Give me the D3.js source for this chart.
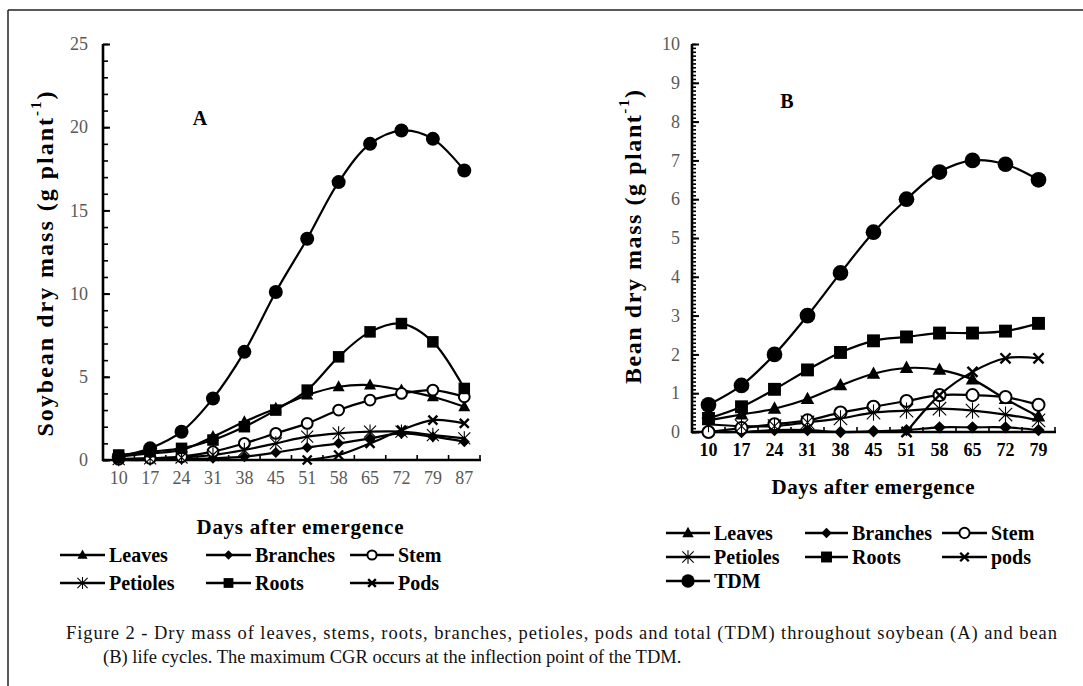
<!DOCTYPE html>
<html>
<head>
<meta charset="utf-8">
<script src="https://cdn.jsdelivr.net/npm/d3@7"></script>
<style>
  html, body { margin: 0; padding: 0; background: #fff; }
  svg { display: block; }
  text { font-family: "Liberation Serif", "Times New Roman", serif; }
</style>
</head>
<body>
<svg id="chart" width="1083" height="686"></svg>
<script>
// ---------------- DATA ----------------
const daysA = [10, 17, 24, 31, 38, 45, 51, 58, 65, 72, 79, 87];
const leavesA   = [0.2, 0.4, 0.6, 1.4, 2.3, 3.1, 3.9, 4.4, 4.5, 4.2, 3.8, 3.2];
const branchesA = [0.0, 0.0, 0.05, 0.1, 0.2, 0.45, 0.75, 1.0, 1.3, 1.6, 1.4, 1.1];
const stemA     = [0.05, 0.1, 0.2, 0.5, 1.0, 1.6, 2.2, 3.0, 3.6, 4.0, 4.2, 3.8];
const petiolesA = [0.05, 0.1, 0.15, 0.3, 0.6, 1.0, 1.4, 1.6, 1.7, 1.7, 1.5, 1.3];
const rootsA    = [0.3, 0.5, 0.7, 1.2, 2.0, 3.0, 4.2, 6.2, 7.7, 8.2, 7.1, 4.3];
const podsA     = [null, null, null, null, null, null, 0.0, 0.3, 1.0, 1.8, 2.4, 2.2];
const tdmA      = [0.2, 0.7, 1.7, 3.7, 6.5, 10.1, 13.3, 16.7, 19.0, 19.8, 19.3, 17.4];
const yTicksA   = [0, 5, 10, 15, 20, 25];

const daysB = [10, 17, 24, 31, 38, 45, 51, 58, 65, 72, 79];
const leavesB   = [0.3, 0.45, 0.6, 0.85, 1.2, 1.5, 1.65, 1.6, 1.35, 0.85, 0.4];
const branchesB = [0.0, 0.0, 0.05, 0.05, 0.0, 0.02, 0.05, 0.12, 0.12, 0.12, 0.05];
const stemB     = [0.0, 0.1, 0.2, 0.3, 0.5, 0.65, 0.8, 0.95, 0.95, 0.9, 0.7];
const petiolesB = [0.2, 0.15, 0.15, 0.25, 0.35, 0.5, 0.55, 0.6, 0.55, 0.45, 0.3];
const rootsB    = [0.35, 0.65, 1.1, 1.6, 2.05, 2.35, 2.45, 2.55, 2.55, 2.6, 2.8];
const podsB     = [null, null, null, null, null, null, 0.0, 0.95, 1.55, 1.9, 1.9];
const tdmB      = [0.7, 1.2, 2.0, 3.0, 4.1, 5.15, 6.0, 6.7, 7.0, 6.9, 6.5];
const yTicksB   = [0, 1, 2, 3, 4, 5, 6, 7, 8, 9, 10];

const legendA = ["Leaves", "Branches", "Stem", "Petioles", "Roots", "Pods"];
const legendB = ["Leaves", "Branches", "Stem", "Petioles", "Roots", "pods", "TDM"];
const captionLines = [
  "Figure 2 - Dry mass of leaves, stems, roots, branches, petioles, pods and total (TDM) throughout soybean (A) and bean",
  "(B) life cycles. The maximum CGR occurs at the inflection point of the TDM."
];

// ---------------- DRAW ----------------
const svg = d3.select("#chart");

// frame
svg.append("line").attr("x1", 8).attr("y1", 10).attr("x2", 1083).attr("y2", 10)
  .attr("stroke", "#222").attr("stroke-width", 1.5);
svg.append("line").attr("x1", 8).attr("y1", 10).attr("x2", 8).attr("y2", 686)
  .attr("stroke", "#222").attr("stroke-width", 1.5);

function marker(g, type, cx, cy, k) {
  if (type === "triangle") {
    const h = 11 * k, w = 12 * k;
    g.append("path").attr("d", `M${cx},${cy - h * 0.6}L${cx + w / 2},${cy + h * 0.4}L${cx - w / 2},${cy + h * 0.4}Z`)
      .attr("fill", "#000");
  } else if (type === "diamond") {
    const r = 5.5 * k;
    g.append("path").attr("d", `M${cx},${cy - r}L${cx + r},${cy}L${cx},${cy + r}L${cx - r},${cy}Z`).attr("fill", "#000");
  } else if (type === "open") {
    g.append("circle").attr("cx", cx).attr("cy", cy).attr("r", 5.4 * k)
      .attr("fill", "#fff").attr("stroke", "#000").attr("stroke-width", 2);
  } else if (type === "star") {
    const r = 6 * k;
    g.append("path").attr("d",
      `M${cx - r},${cy - r}L${cx + r},${cy + r}M${cx - r},${cy + r}L${cx + r},${cy - r}M${cx},${cy - r * 1.2}L${cx},${cy + r * 1.2}`)
      .attr("stroke", "#000").attr("stroke-width", 1.1).attr("fill", "none");
  } else if (type === "square") {
    const a = 11.5 * k;
    g.append("rect").attr("x", cx - a / 2).attr("y", cy - a / 2).attr("width", a).attr("height", a).attr("fill", "#000");
  } else if (type === "x") {
    const r = 4.5 * k;
    g.append("path").attr("d", `M${cx - r},${cy - r}L${cx + r},${cy + r}M${cx - r},${cy + r}L${cx + r},${cy - r}`)
      .attr("stroke", "#000").attr("stroke-width", 2.4).attr("fill", "none");
  } else if (type === "circle") {
    g.append("circle").attr("cx", cx).attr("cy", cy).attr("r", 7 * k).attr("fill", "#000");
  }
}

const markerTypes = ["triangle", "diamond", "open", "star", "square", "x", "circle"];

function drawPanel(cfg) {
  const g = svg.append("g");
  const x = d3.scaleBand().domain(cfg.days).range([cfg.x0, cfg.x1]);
  const y = d3.scaleLinear().domain([0, cfg.ymax]).range([cfg.y0, cfg.ytop]);
  const cx = d => x(d) + x.bandwidth() / 2;

  // y minor ticks
  g.append("g").attr("transform", `translate(${cfg.x0},0)`)
    .call(d3.axisLeft(y).tickValues(cfg.minor).tickSize(-cfg.minorLen).tickSizeOuter(0).tickFormat(""))
    .call(a => a.select(".domain").remove())
    .call(a => a.selectAll("line").attr("stroke", "#000").attr("stroke-width", 1.6));
  // y major ticks + labels
  g.append("g").attr("transform", `translate(${cfg.x0},0)`)
    .call(d3.axisLeft(y).tickValues(cfg.yTicks).tickSize(-cfg.majorLen).tickSizeOuter(0).tickPadding(cfg.yPad))
    .call(a => a.select(".domain").remove())
    .call(a => a.selectAll("line").attr("stroke", "#000").attr("stroke-width", 2))
    .call(a => a.selectAll("text").attr("font-size", 18).attr("fill", "#595959"));

  // x tick marks at band boundaries (inside)
  const edges = cfg.days.map(d => x(d)).concat([x(cfg.days[cfg.days.length - 1]) + x.step()]);
  g.selectAll(".xt").data(edges).join("line")
    .attr("x1", d => d).attr("x2", d => d)
    .attr("y1", cfg.y0).attr("y2", cfg.y0 - 5)
    .attr("stroke", "#000").attr("stroke-width", 1.6);

  // x labels
  g.append("g").attr("transform", `translate(0,${cfg.y0})`)
    .call(d3.axisBottom(x).tickSize(0).tickPadding(cfg.xPad))
    .call(a => a.select(".domain").remove())
    .call(a => a.selectAll("text").attr("font-size", 18)
      .attr("fill", cfg.xLabelColor).attr("font-weight", cfg.xLabelWeight));

  // axes lines
  g.append("line").attr("x1", cfg.x0).attr("x2", cfg.x0).attr("y1", cfg.ytop).attr("y2", cfg.y0 + 1)
    .attr("stroke", "#000").attr("stroke-width", 2.6);
  g.append("line").attr("x1", cfg.x0 - 1).attr("x2", cfg.x1 + 1).attr("y1", cfg.y0).attr("y2", cfg.y0)
    .attr("stroke", "#000").attr("stroke-width", 2.6);

  // series
  const line = d3.line().x(d => cx(d.day)).y(d => y(d.v))
    .curve(d3.curveCatmullRom.alpha(0.5));
  cfg.series.forEach((vals) => {
    const pts = cfg.days.map((day, j) => ({ day, v: vals[j] })).filter(p => p.v !== null);
    g.append("path").attr("d", line(pts))
      .attr("fill", "none").attr("stroke", "#000").attr("stroke-width", 2.2);
  });
  cfg.series.forEach((vals, i) => {
    const mg = g.append("g");
    cfg.days.forEach((day, j) => {
      if (vals[j] === null) return;
      marker(mg, markerTypes[i], cx(day), y(vals[j]), cfg.mk);
    });
  });

  // panel letter
  g.append("text").attr("x", cfg.letter[0]).attr("y", cfg.letter[1]).text(cfg.letter[2])
    .attr("font-weight", "bold").attr("font-size", 20).attr("text-anchor", "middle").attr("dominant-baseline", "central");

  // y title
  const yt = g.append("text")
    .attr("transform", `translate(${cfg.yTitle[0]},${cfg.yTitle[1]}) rotate(-90)`)
    .attr("text-anchor", "middle").attr("dominant-baseline", "central")
    .attr("font-weight", "bold").attr("font-size", 24)
    .attr("textLength", cfg.yTitle[3]).attr("lengthAdjust", "spacing");
  yt.append("tspan").text(cfg.yTitle[2] + " (g plant");
  yt.append("tspan").text("-1").attr("font-size", 15).attr("dy", -9);
  yt.append("tspan").text(")").attr("dy", 9);

  // x title
  g.append("text").attr("x", cfg.xTitle[0]).attr("y", cfg.xTitle[1]).text("Days after emergence")
    .attr("text-anchor", "middle").attr("dominant-baseline", "central")
    .attr("font-weight", "bold").attr("font-size", 21)
    .attr("textLength", cfg.xTitle[2]).attr("lengthAdjust", "spacing");

  // legend
  cfg.legend.forEach((name, i) => {
    const col = i % 3, row = Math.floor(i / 3);
    const lx0 = cfg.legCols[col][0], lx1 = cfg.legCols[col][1];
    const ly = cfg.legRows[row];
    const lg = g.append("g");
    lg.append("line").attr("x1", lx0).attr("x2", lx1).attr("y1", ly).attr("y2", ly)
      .attr("stroke", "#000").attr("stroke-width", 2.6);
    marker(lg, markerTypes[i], (lx0 + lx1) / 2, ly, cfg.legMk);
    lg.append("text").attr("x", lx1 + 4).attr("y", ly).text(name)
      .attr("dominant-baseline", "central").attr("font-weight", "bold").attr("font-size", 20);
  });
}

drawPanel({
  days: daysA, x0: 103, x1: 480, y0: 460, ytop: 44, ymax: 25,
  yTicks: yTicksA, minor: d3.range(0, 26, 1), majorLen: 7, minorLen: 5, yPad: 15, xPad: 11,
  xLabelColor: "#595959", xLabelWeight: "normal",
  series: [leavesA, branchesA, stemA, petiolesA, rootsA, podsA, tdmA], mk: 1,
  letter: [200, 118, "A"], yTitle: [45, 264, "Soybean dry mass", 345], xTitle: [300, 527, 207],
  legend: legendA, legCols: [[60, 105], [206, 251], [350, 394]], legRows: [555, 583], legMk: 0.85
});

drawPanel({
  days: daysB, x0: 692, x1: 1055, y0: 432, ytop: 44, ymax: 10,
  yTicks: yTicksB, minor: d3.range(0, 100.5, 1).map(v => v / 10), majorLen: 7, minorLen: 4, yPad: 12, xPad: 11,
  xLabelColor: "#000", xLabelWeight: "bold",
  series: [leavesB, branchesB, stemB, petiolesB, rootsB, podsB, tdmB], mk: 1.12,
  letter: [787, 101, "B"], yTitle: [633, 237, "Bean dry mass", 294], xTitle: [873, 487, 203],
  legend: legendB, legCols: [[666, 710], [805, 848], [942, 987]], legRows: [533, 557, 581], legMk: 0.95
});

// caption (first line justified to full width)
svg.append("text").attr("x", 66).attr("y", 639).text(captionLines[0])
  .attr("font-size", 18.5).attr("fill", "#111")
  .attr("textLength", 991).attr("lengthAdjust", "spacing");
svg.append("text").attr("x", 103).attr("y", 663).text(captionLines[1])
  .attr("font-size", 18.5).attr("fill", "#111");
</script>
</body>
</html>
